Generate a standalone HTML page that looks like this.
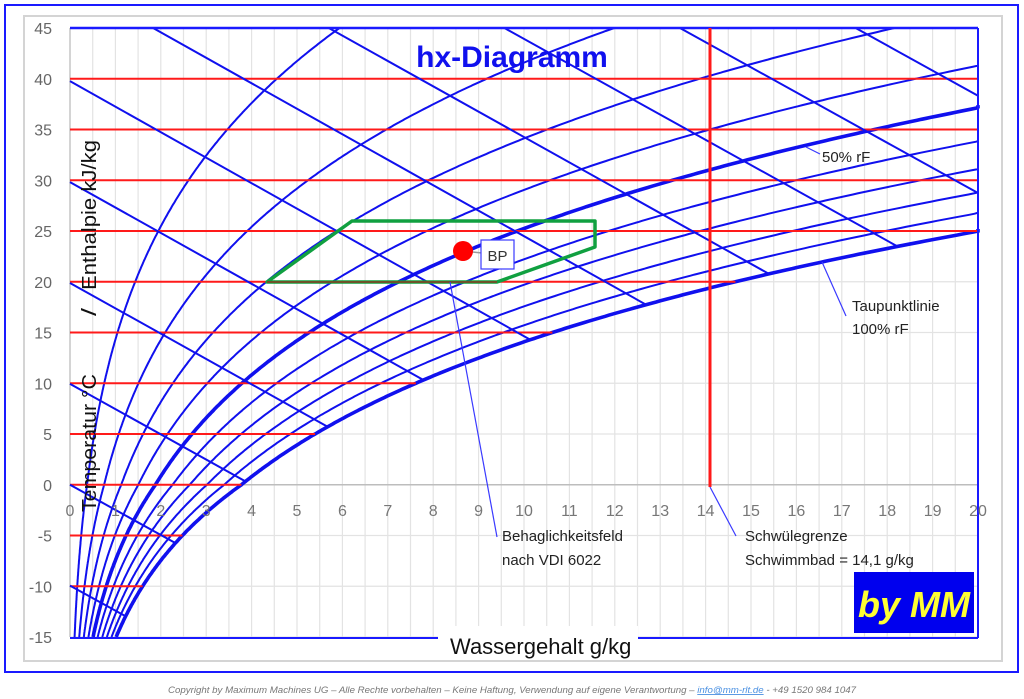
<!DOCTYPE html>
<html><head><meta charset="utf-8"><style>
html,body{margin:0;padding:0;background:#fff;width:1024px;height:699px;overflow:hidden}
svg{display:block}
text{font-family:"Liberation Sans",sans-serif}
</style></head><body>
<svg id="s" width="1024" height="699" xmlns="http://www.w3.org/2000/svg">
<rect x="0" y="0" width="1024" height="699" fill="#fff"/>
<g id="bg"></g>
<rect x="5" y="5" width="1013" height="667" fill="none" stroke="#1a1aff" stroke-width="2"/>
<rect x="24" y="16" width="978" height="645" fill="#fff" stroke="#d4d4d4" stroke-width="2"/>
<g id="grid"></g>
<g id="plot"></g>
<g id="labels"></g>
<text x="512" y="693" font-size="9" font-style="italic" fill="#777" text-anchor="middle" textLength="688" lengthAdjust="spacingAndGlyphs">Copyright by Maximum Machines UG – Alle Rechte vorbehalten – Keine Haftung, Verwendung auf eigene Verantwortung – <tspan fill="#4a90e2" text-decoration="underline">info@mm-rlt.de</tspan> - +49 1520 984 1047</text>
</svg>
<script>
const NS="http://www.w3.org/2000/svg";
function el(p,t,a,txt){const e=document.createElementNS(NS,t);for(const k in a)e.setAttribute(k,a[k]);if(txt!==undefined)e.textContent=txt;document.getElementById(p).appendChild(e);return e;}
const X=g=>70+g*45.4, Y=T=>28+(45-T)*10.15;
function ps(T){return T>=0?611.2*Math.exp(17.62*T/(243.12+T)):611.2*Math.exp(22.46*T/(272.62+T));}
function xs(T,phi){const p=phi*ps(T);return 622*p/(101325-p);}
for(let g=0;g<=20;g+=0.5){el('grid','line',{x1:X(g),y1:28,x2:X(g),y2:637,stroke:'#e3e3e3','stroke-width':1.2});}
for(let T=-15;T<=45;T+=5){el('grid','line',{x1:70,y1:Y(T),x2:978,y2:Y(T),stroke:'#e3e3e3','stroke-width':1.2});}
el('grid','line',{x1:70,y1:28,x2:70,y2:637,stroke:'#c8c8c8','stroke-width':1.5});
el('grid','line',{x1:70,y1:Y(0),x2:978,y2:Y(0),stroke:'#bdbdbd','stroke-width':1.5});
for(let i=1;i<=10;i++){const phi=i/10;let d='';let started=false;
 for(let T=-15;T<=45.001;T+=0.1){const x=xs(T,phi);if(x>20.3)break;d+=(started?'L':'M')+X(Math.min(x,20)).toFixed(1)+' '+Y(T).toFixed(1);started=true;}
 el('plot','path',{d:d,fill:'none',stroke:'#1010ee','stroke-width':(i==5||i==10)?3.6:2});}
for(let T=-10;T<=40;T+=5){let x=Math.min(xs(T,1),20);el('plot','line',{x1:70,y1:Y(T),x2:X(x),y2:Y(T),stroke:'#ff1a1a','stroke-width':2});}
for(let h=-10;h<=90;h+=10){let pts=[];
 for(let x=0;x<=20;x+=0.02){const T=(h-2.501*x)/(1.006+0.00186*x);if(T>45)continue;if(T<-15)break;if(x>xs(T,1))break;pts.push([X(x),Y(T)]);}
 if(pts.length>1){el('plot','line',{x1:pts[0][0],y1:pts[0][1],x2:pts[pts.length-1][0],y2:pts[pts.length-1][1],stroke:'#1010ee','stroke-width':2});}}
el('plot','line',{x1:70,y1:28,x2:978,y2:28,stroke:'#1a1aff','stroke-width':2.5});
el('plot','line',{x1:978,y1:28,x2:978,y2:638,stroke:'#1a1aff','stroke-width':2});
el('plot','line',{x1:70,y1:638,x2:978,y2:638,stroke:'#1a1aff','stroke-width':2});
el('plot','line',{x1:710,y1:28,x2:710,y2:487,stroke:'#ff1a1a','stroke-width':3});
el('plot','polygon',{points:'267,282 352,221 595,221 595,247 497,282',fill:'none',stroke:'#10a040','stroke-width':3.5,'stroke-linejoin':'round'});
el('plot','line',{x1:267,y1:282,x2:497,y2:282,stroke:'#8a3a20','stroke-width':1.5});
el('plot','line',{x1:463,y1:251,x2:482,y2:253,stroke:'#999','stroke-width':1.5});
el('plot','circle',{cx:463,cy:251,r:10,fill:'#f00'});
el('plot','rect',{x:481,y:240,width:33,height:29,fill:'#fff',stroke:'#3a3aff','stroke-width':1.2});
el('labels','text',{x:497.5,y:261,'font-size':15,'text-anchor':'middle',fill:'#333'},'BP');
el('labels','line',{x1:450,y1:282,x2:497,y2:537,stroke:'#3a3aff','stroke-width':1.2});
el('labels','line',{x1:710,y1:487,x2:736,y2:536,stroke:'#3a3aff','stroke-width':1.2});
el('labels','line',{x1:806,y1:147,x2:820,y2:154,stroke:'#3a3aff','stroke-width':1.2});
el('labels','line',{x1:822,y1:262,x2:846,y2:316,stroke:'#3a3aff','stroke-width':1.2});
for(let T=-15;T<=45;T+=5)el('labels','text',{x:52,y:Y(T)+6,'font-size':16,'text-anchor':'end',fill:'#666'},String(T));
for(let g=0;g<=20;g++)el('labels','text',{x:X(g),y:516,'font-size':16,'text-anchor':'middle',fill:'#777'},String(g));
const lab=(x,y,t,s)=>el('labels','text',{x:x,y:y,'font-size':s||15,fill:'#222'},t);
lab(822,162,'50% rF');lab(852,311,'Taupunktlinie');lab(852,334,'100% rF');
lab(502,541,'Behaglichkeitsfeld');lab(502,565,'nach VDI 6022');
lab(745,541,'Schwülegrenze');lab(745,565,'Schwimmbad = 14,1 g/kg');
el('labels','text',{x:512,y:67,'font-size':30,'font-weight':'bold','text-anchor':'middle',fill:'#1010ee'},'hx-Diagramm');
el('labels','rect',{x:438,y:626,width:200,height:32,fill:'#fff'});
el('labels','text',{x:450,y:654,'font-size':22,fill:'#111'},'Wassergehalt g/kg');
const rt=(y,t,len)=>el('labels','text',{x:0,y:0,'font-size':20,fill:'#111',transform:'translate(96,'+y+') rotate(-90)',textLength:len,lengthAdjust:'spacingAndGlyphs'},t);
rt(512,'Temperatur °C',138);
rt(316,'/',8);
rt(290,'Enthalpie kJ/kg',150);
el('labels','rect',{x:854,y:572,width:120,height:61,fill:'#0000ee'});
el('labels','text',{x:914,y:617,'font-size':36,'font-style':'italic','font-weight':'bold','text-anchor':'middle',fill:'#ffff33'},'by MM');
</script>
</body></html>
